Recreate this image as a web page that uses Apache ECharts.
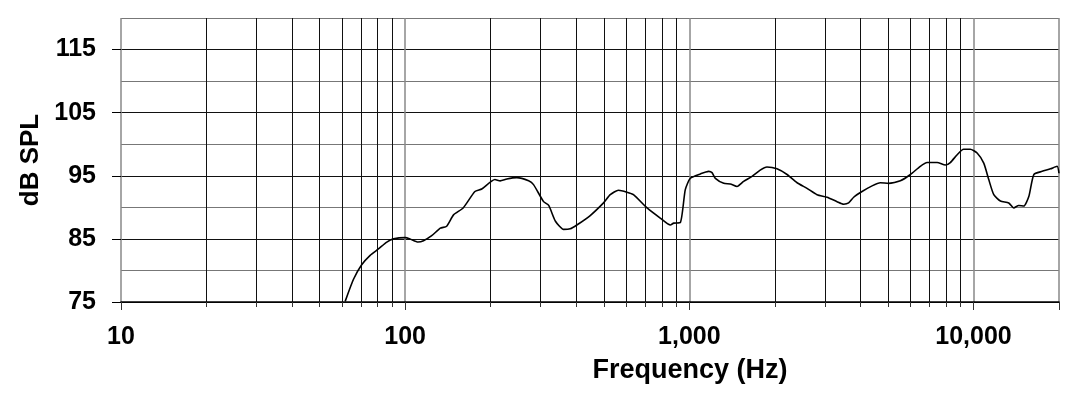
<!DOCTYPE html>
<html>
<head>
<meta charset="utf-8">
<script src="https://cdn.jsdelivr.net/npm/echarts@6/dist/echarts.min.js"></script>
<style>
html,body{margin:0;padding:0;background:#fff;}
#chart{width:1079px;height:397px;}
</style>
</head>
<body>
<div id="chart"></div>
<script>
const freqHz = [61.5, 65.8, 70.3, 75.3, 80.5, 86.2, 91, 100, 104, 111, 116, 124, 133, 140, 148, 160, 176, 186, 207, 216, 228, 247, 272, 283, 307, 320, 338, 361, 381, 402, 448, 499, 527, 563, 603, 636, 710, 790, 858, 881, 930, 968, 1008, 1094, 1170, 1202, 1235, 1322, 1394, 1472, 1553, 1662, 1776, 1876, 2035, 2208, 2395, 2596, 2815, 3053, 3311, 3493, 3637, 3788, 4054, 4397, 4700, 5030, 5530, 6000, 6500, 6870, 7450, 7960, 8290, 8750, 9230, 9750, 10300, 10870, 11320, 11790, 12440, 13310, 13860, 14430, 15030, 15660, 16310, 17450, 18660, 19700, 20000];
const splDb = [75.1, 78.6, 80.9, 82.4, 83.4, 84.5, 85.0, 85.2, 85.0, 84.5, 84.7, 85.5, 86.7, 87.0, 88.8, 89.9, 92.5, 92.9, 94.4, 94.2, 94.5, 94.7, 94.2, 93.6, 90.9, 90.3, 87.8, 86.5, 86.6, 87.2, 88.7, 90.7, 92.0, 92.7, 92.4, 92.0, 89.9, 88.3, 87.2, 87.5, 87.6, 92.8, 94.6, 95.3, 95.7, 95.5, 94.6, 93.8, 93.7, 93.3, 94.1, 94.9, 95.9, 96.4, 96.1, 95.2, 93.9, 93.0, 92.0, 91.6, 90.9, 90.5, 90.7, 91.6, 92.5, 93.4, 93.9, 93.8, 94.2, 95.2, 96.5, 97.1, 97.1, 96.7, 97.1, 98.3, 99.2, 99.2, 98.6, 97.0, 94.4, 92.0, 91.0, 90.7, 89.9, 90.3, 90.2, 91.7, 95.2, 95.7, 96.1, 96.5, 95.4];
const xTickLabels = [10, 100, 1000, 10000];
const yTickLabels = [75, 85, 95, 105, 115];

const FONT = 'Liberation Sans, Arial, sans-serif';
const chart = echarts.init(document.getElementById('chart'), null, {renderer: 'canvas'});
chart.setOption({
  animation: false,
  backgroundColor: '#fff',
  grid: {left: 121, right: 20, top: 18, bottom: 95, containLabel: false},
  xAxis: {
    type: 'log',
    logBase: 10,
    min: 10,
    max: 20000,
    name: 'Frequency (Hz)',
    nameLocation: 'middle',
    nameGap: 55,
    nameTextStyle: {color: '#000', fontSize: 27, fontWeight: 'bold', fontFamily: FONT, padding: [0, 0, 0, 200]},
    axisLine: {show: true, lineStyle: {color: '#000', width: 1.5}},
    axisTick: {show: true, length: 8, lineStyle: {color: '#333', width: 1}},
    minorTick: {show: true, splitNumber: 9, length: 5, lineStyle: {color: '#333', width: 1}},
    axisLabel: {
      margin: 23,
      color: '#000', fontSize: 25, fontWeight: 'bold', fontFamily: FONT,
      showMaxLabel: false,
      formatter: v => xTickLabels.includes(Math.round(v)) ? Math.round(v).toLocaleString('en-US') : ''
    },
    splitLine: {show: true, lineStyle: {color: '#888', width: 1.5}},
    minorSplitLine: {show: true, lineStyle: {color: '#111', width: 1}}
  },
  yAxis: [{
    type: 'value',
    min: 75,
    max: 120,
    interval: 5,
    name: 'dB SPL',
    nameLocation: 'middle',
    nameGap: 77,
    nameTextStyle: {color: '#000', fontSize: 26, fontWeight: 'bold', fontFamily: FONT},
    axisLine: {show: false},
    axisTick: {show: false},
    axisLabel: {
      margin: 25,
      color: '#000', fontSize: 25, fontWeight: 'bold', fontFamily: FONT,
      formatter: v => yTickLabels.includes(v) ? String(v) : ''
    },
    splitLine: {show: true, lineStyle: {color: ['#111', '#777'], width: 1}}
  }, {
    type: 'value',
    min: 75,
    max: 120,
    position: 'left',
    axisLine: {show: false},
    axisLabel: {show: false},
    splitLine: {show: false},
    axisTick: {show: true, length: 9, customValues: yTickLabels, lineStyle: {color: '#000', width: 1}}
  }],
  series: [{
    type: 'line',
    yAxisIndex: 0,
    data: freqHz.map((f, i) => [f, splDb[i]]),
    showSymbol: false,
    smooth: 0.2,
    clip: true,
    lineStyle: {color: '#000', width: 1.6}
  }]
});
</script>
</body>
</html>
